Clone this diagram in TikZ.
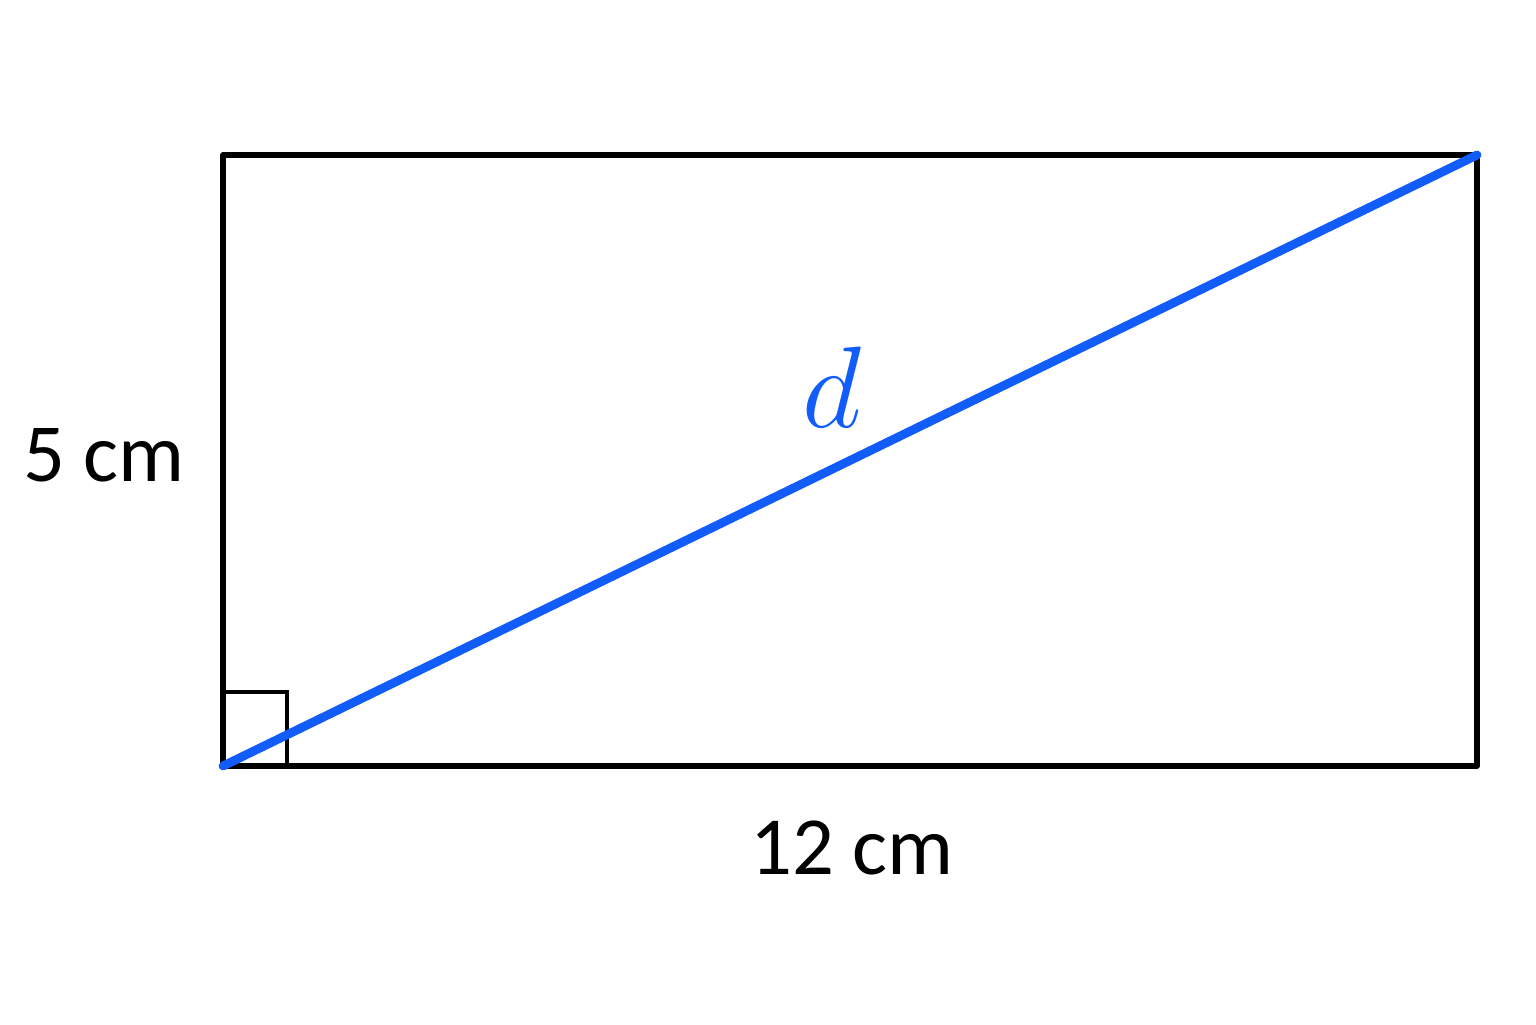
\documentclass[tikz,border=0pt]{standalone}
\usepackage{fix-cm}
\usepackage{amsmath}
\usepackage{fontspec}
\setmainfont{Carlito}
\usetikzlibrary{positioning}
\definecolor{dblue}{RGB}{18,92,250}
\tikzset{side/.style = {line width=1.6pt, line join=round, line cap=round}}
\tikzset{len/.style = {font=\fontsize{23.5}{27}\selectfont}}

\begin{document}
\begin{tikzpicture}
      \useasboundingbox (0, 0) rectangle (15.36, 10.24);

      \coordinate (A) at (2.23, 2.58);
      \coordinate (B) at (14.77, 2.58);
      \coordinate (C) at (14.77, 8.69);
      \coordinate (D) at (2.23, 8.69);

      \draw [side] (A) -- (B) -- (C) -- (D) -- cycle;
      \draw [line width=1.1pt] (A) ++(0, 0.74) -- ++(0.64, 0) -- ++(0, -0.74);

      \draw [dblue, line width=2.5pt, line cap=round] (A) -- (C) node [pos=0.486, anchor=base, yshift=0.42cm, font=\fontsize{33}{36}\selectfont] (d) {$d$};

      \node [len] (h) at (1.04, 5.69) {5 cm};
      \node [len] (w) at (8.52, 1.76) {12 cm};
    \end{tikzpicture}
\end{document}
